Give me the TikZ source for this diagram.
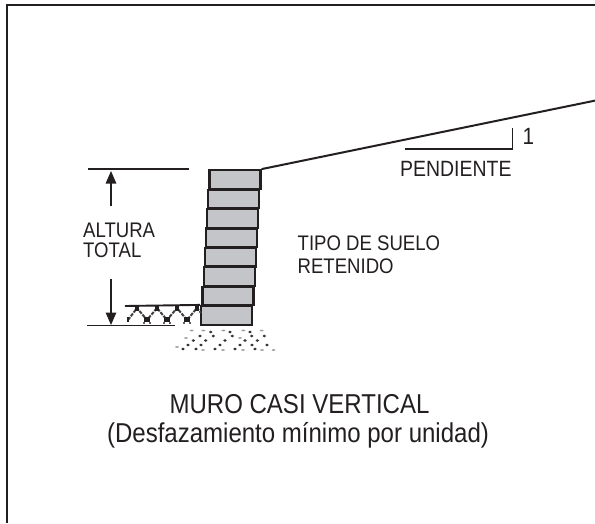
\documentclass[tikz,border=0pt]{standalone}
\usepackage{fontspec}
\setmainfont[FakeStretch=0.88]{Liberation Sans}
\usetikzlibrary{arrows.meta}
\definecolor{ink}{HTML}{231F20}
\definecolor{blockgray}{HTML}{C4C5C8}
\tikzset{
  lbl/.style={inner sep=0pt,anchor=base west,text=ink,font=\fontsize{21.1}{24}\selectfont},
  captext/.style={inner sep=0pt,anchor=base,text=ink,font=\fontsize{27.3}{30}\selectfont},
  block/.style={draw=ink,fill=blockgray,line width=2.2pt,minimum width=51pt,minimum height=18.6pt,inner sep=0pt},
  frameline/.style={draw=ink,line width=2.3pt},
  thinline/.style={draw=ink,line width=1.2pt},
  dimline/.style={draw=ink,line width=1.2pt,-{Triangle[length=12.5pt,width=10.5pt]}},
  slopeline/.style={draw=ink,line width=2pt},
  soilline/.style={draw=ink!85,line width=2pt,dash pattern=on 3.5pt off 1.2pt},
  grav/.style={fill=ink!90,draw=none},
  gravfaint/.style={fill=ink!45,draw=none}
}
\begin{document}
\begin{tikzpicture}[x=1pt,y=-1pt]
\useasboundingbox (0,0) rectangle (595,523);
\fill[white] (0,0) rectangle (595,523);
% frame
\draw[frameline] (595,5) -- (7,5) -- (7,523);
% blocks, top to bottom
\foreach \i in {0,...,7}{
  \node[block] (b\i) at ({235-1.17*\i},{179.5+19.4*\i}) {};
}
% slope
\coordinate (slopeend) at (598,100);
\draw[slopeline] (b0.north east) -- (slopeend);
\coordinate (pa) at (405,149);
\coordinate (pb) at (512.5,149);
\coordinate (pc) at (512.5,128);
\draw[draw=ink,line width=1.7pt] (pa) -- (pb) -- (pc);
\node[lbl,font=\fontsize{23.5}{24}\selectfont] (one) at (522.5,144.5) {1};
\node[lbl,font=\fontsize{22.1}{24}\selectfont] (pend) at (400,176) {PENDIENTE};
% dimension
\coordinate (dt1) at (88,169);
\coordinate (dt2) at (189,169);
\draw[thinline] (dt1) -- (dt2);
\coordinate (db1) at (87,325.5);
\coordinate (db2) at (175,325.5);
\draw[thinline] (db1) -- (db2);
\coordinate (a1) at (111,206);
\coordinate (a2) at (111,171);
\draw[dimline] (a1) -- (a2);
\coordinate (a3) at (111,279);
\coordinate (a4) at (111,325);
\draw[dimline] (a3) -- (a4);
\node[lbl] (alt) at (83,237) {ALTURA};
\node[lbl] (tot) at (83,257.5) {TOTAL};
% soil in front
\draw[soilline]
  (128,320) -- (137,308) -- (147,320) -- (157,308) -- (167,320) -- (177,308) -- (187,320) -- (197,308) -- (201,313);
\foreach \x in {137,157,177,197}{\fill[ink] (\x-2.2,306) rectangle (\x+2.2,310.5);}
\foreach \x in {147,167,187}{
  \fill[ink] (\x-2.6,316.5) rectangle (\x+2.6,321.5);
  \fill[ink!70] (\x-4,322) rectangle (\x-2,323.5);
  \fill[ink!70] (\x+2,322) rectangle (\x+4,323.5);
}
\fill[ink] (126.5,317) rectangle (129,322);
\draw[draw=ink,line width=1.9pt] (125,306) -- (b7.north west);
% gravel
\foreach \y/\xs in {
  332/{210.7,230,250},
  336/{200,213.3,232.3,251.7,264.3},
  340.5/{193.3,205.7,225,245,257.3},
  345/{188,201,220,240,252,267},
  349/{183,196,215,235,255}}{
  \foreach \x in \xs {\fill[grav] (\x,\y) ellipse (1.8 and 1.4);}
}
\foreach \y/\xs in {
  330.5/{191.7,203.3,223.3,243.3,261.7},
  350/{203,223,243,262,273.5},
  338/{186,240},
  347/{177}}{
  \foreach \x in \xs {\fill[gravfaint] (\x,\y) ellipse (2 and 0.8);}
}
% texts
\node[lbl] (t1) at (297.5,250) {TIPO DE SUELO};
\node[lbl] (t2) at (297.5,273) {RETENIDO};
\node[captext] (c1) at (299.5,413) {MURO CASI VERTICAL};
\node[captext] (c2) at (298,442) {(Desfazamiento mínimo por unidad)};
\end{tikzpicture}
\end{document}
